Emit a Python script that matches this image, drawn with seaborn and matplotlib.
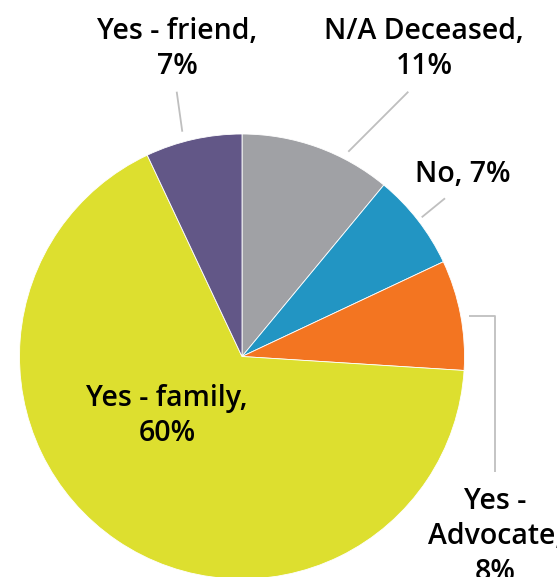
import matplotlib
matplotlib.use("Agg")
import matplotlib.pyplot as plt
import seaborn as sns

categories = ["N/A Deceased", "No", "Yes - Advocate", "Yes - family", "Yes - friend"]
values = [11, 7, 8, 67, 7]
label_texts = ["N/A Deceased,\n11%", "No, 7%", "Yes -\nAdvocate,\n8%", "Yes - family,\n60%", "Yes - friend,\n7%"]
colors = ["#A0A1A5", "#2295C3", "#F37521", "#DDDF2F", "#625787"]

W, H = 557, 577
sns.set_theme(style="white")
plt.rcParams['font.family'] = ['Open Sans', 'DejaVu Sans']

fig = plt.figure(figsize=(W / 100, H / 100), dpi=100)
ax = fig.add_axes([0, 0, 1, 1])

def px(x, y):
    return (x, H - y)

ax.pie(values, colors=sns.color_palette(colors), startangle=90, counterclock=False,
       center=px(242, 356.5), radius=222.5, frame=True,
       wedgeprops=dict(edgecolor="white", linewidth=0.6))
ax.set_xlim(0, W)
ax.set_ylim(0, H)
ax.set_aspect("equal")
ax.axis("off")

fs = 20.5
ls = 1.3
line_col = "#BFBFBF"
tkw = dict(ha="center", va="center", fontsize=fs, linespacing=ls, color="black", fontweight=600)
lab = dict(zip(categories, label_texts))
ax.text(*px(177, 49), lab["Yes - friend"], **tkw)
ax.text(*px(424, 49), lab["N/A Deceased"], **tkw)
ax.text(*px(463, 174), lab["No"], **tkw)
ax.text(*px(495, 537), lab["Yes - Advocate"], **tkw)
ax.text(*px(167, 416), lab["Yes - family"], **tkw)

def seg(pts):
    xs = [p[0] for p in pts]
    ys = [H - p[1] for p in pts]
    ax.plot(xs, ys, color=line_col, lw=1.3, solid_capstyle="butt")

seg([(176.7, 91.7), (182.3, 131.7)])
seg([(408.3, 91.7), (348.3, 151.7)])
seg([(445, 198.3), (421.7, 217.3)])
seg([(469.3, 316), (495, 316), (495, 471.7)])

fig.savefig("out.png", dpi=100)
